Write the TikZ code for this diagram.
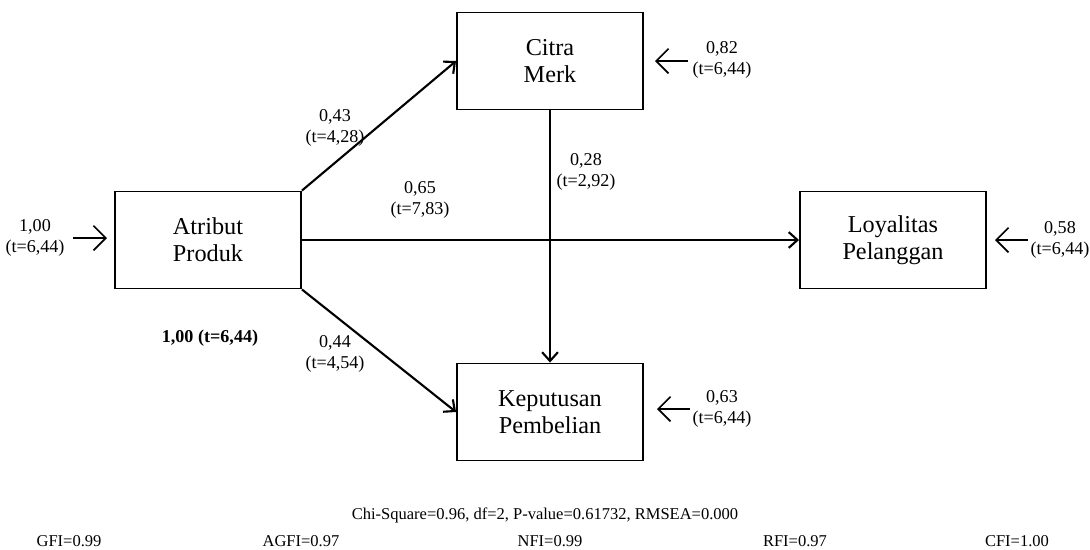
\documentclass[tikz,border=0pt]{standalone}
\usepackage{fontspec}
\setmainfont{Liberation Serif}
\usepackage{xcolor}
\usepackage{tikz}
\usetikzlibrary{arrows.meta}
\definecolor{ink}{HTML}{000000}
\tikzset{
  var/.style={draw=ink, line width=1.1pt, minimum width=3.72cm, minimum height=1.94cm, align=center, font=\fontsize{13.8}{15.5}\selectfont},
  path/.style={draw=ink, line width=1.2pt, -{Straight Barb[length=5pt,width=9pt,line width=1.2pt]}},
  err/.style={draw=ink, line width=1pt, -{Straight Barb[length=7pt,width=14pt,line width=1pt]}},
  lab/.style={text=ink, align=center, font=\fontsize{10.3}{11.5}\selectfont},
  fit/.style={text=ink, font=\fontsize{9.4}{10}\selectfont},
}
\begin{document}
\begin{tikzpicture}[x=0.02cm,y=-0.02cm]
  \useasboundingbox (0,0) rectangle (1090,549);
  % variables
  \node[var] (AP) at (208,240) {Atribut\\Produk};
  \node[var] (CM) at (550,61) {Citra\\Merk};
  \node[var] (LP) at (893,240) {Loyalitas\\Pelanggan};
  \node[var] (KP) at (550,412) {Keputusan\\Pembelian};
  % structural paths
  \draw[path] (AP.north east) -- (CM.west);
  \draw[path] (AP) -- (LP);
  \draw[path] (AP.south east) -- (KP.west);
  \draw[path] (CM) -- (KP);
  \node[lab] (lAC) at (335,128) {0,43\\(t=4,28)};
  \node[lab] (lAL) at (420,200) {0,65\\(t=7,83)};
  \node[lab] (lCK) at (586,172) {0,28\\(t=2,92)};
  \node[lab] (lAK) at (335,354) {0,44\\(t=4,54)};
  \node[lab,font=\fontsize{10.3}{11.5}\selectfont\bfseries] (lAA) at (210,338) {1,00 (t=6,44)};
  % errors
  \node[lab] (eAP) at (35,238) {1,00\\(t=6,44)};
  \coordinate (eAPs) at (73,238);
  \draw[err] (eAPs) -- (107,238);
  \node[lab] (eCM) at (722,60) {0,82\\(t=6,44)};
  \coordinate (eCMs) at (688,61);
  \draw[err] (eCMs) -- (655,61);
  \node[lab] (eLP) at (1060,240) {0,58\\(t=6,44)};
  \coordinate (eLPs) at (1028,240);
  \draw[err] (eLPs) -- (995,240);
  \node[lab] (eKP) at (722,409) {0,63\\(t=6,44)};
  \coordinate (eKPs) at (690,409);
  \draw[err] (eKPs) -- (657,409);
  % fit indices
  \node[fit] (chi) at (545,515) {Chi-Square=0.96, df=2, P-value=0.61732, RMSEA=0.000};
  \node[fit] (gfi) at (69,541) {GFI=0.99};
  \node[fit] (agfi) at (301,541) {AGFI=0.97};
  \node[fit] (nfi) at (550,541) {NFI=0.99};
  \node[fit] (rfi) at (795,541) {RFI=0.97};
  \node[fit] (cfi) at (1017,541) {CFI=1.00};
\end{tikzpicture}
\end{document}
